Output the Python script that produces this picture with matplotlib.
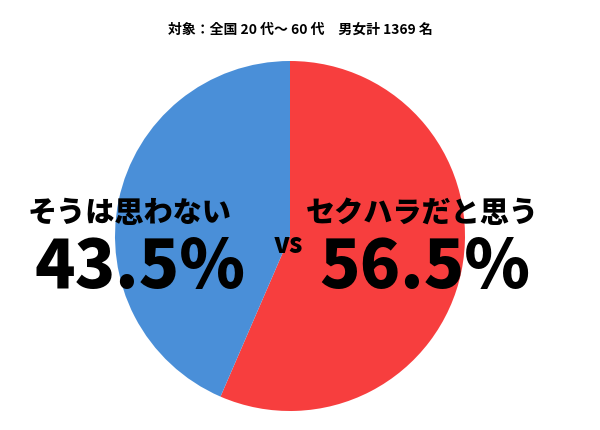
import matplotlib
matplotlib.use("Agg")
import matplotlib.pyplot as plt

plt.rcParams['font.family'] = ['Noto Sans CJK JP', 'DejaVu Sans']

labels = ["セクハラだと思う", "そうは思わない"]
values = [56.5, 43.5]
colors = ["#F73E3E", "#4A8FD8"]
title = "対象：全国 20 代～ 60 代　男女計 1369 名"

fig = plt.figure(figsize=(6, 4.31), dpi=100)
ax = fig.add_axes([290/600 - 175/600, 1 - 412/431, 350/600, 350/431])
ax.pie(values, colors=colors, startangle=90, counterclock=False,
       wedgeprops=dict(linewidth=0), radius=1)
ax.set_xlim(-1, 1)
ax.set_ylim(-1, 1)
ax.set_aspect("equal")

fig.text(0.5, 1 - 30/431, title, ha="center", va="center", fontsize=10, fontweight="bold")
fig.text(130/600, 1 - 213/431, labels[1], ha="center", va="center", fontsize=21, fontweight="black")
fig.text(140/600, 1 - 268/431, f"{values[1]}%", ha="center", va="center", fontsize=48, fontweight="black")
fig.text(422/600, 1 - 213/431, labels[0], ha="center", va="center", fontsize=21, fontweight="black")
fig.text(425/600, 1 - 268/431, f"{values[0]}%", ha="center", va="center", fontsize=48, fontweight="black")
fig.text(288/600, 1 - 245/431, "vs", ha="center", va="center", fontsize=19, fontweight="black")

fig.savefig("out.png", dpi=100)
